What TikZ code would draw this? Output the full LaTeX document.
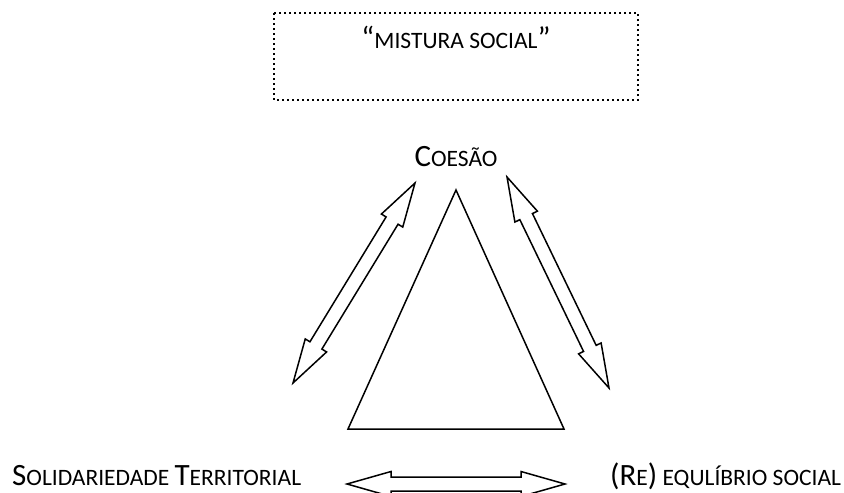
\documentclass[tikz,border=0pt]{standalone}
\usepackage{fontspec}
\setmainfont{Carlito}
\usetikzlibrary{calc}
\newcommand\BigC[1]{{\fontsize{31}{31}\selectfont #1}}
\newcommand\SmC[1]{{\fontsize{23.5}{23.5}\selectfont #1}}
\newcommand\hollowarrow[3]{%
  \coordinate (#1a) at ($(#2)!44pt!(#3)$);
  \coordinate (#1b) at ($(#3)!44pt!(#2)$);
  \draw[arrowline] (#2) -- ($(#1a)!12.5pt!90:(#3)$) -- ($(#1a)!7pt!90:(#3)$)
    -- ($(#1b)!7pt!-90:(#2)$) -- ($(#1b)!12.5pt!-90:(#2)$) -- (#3)
    -- ($(#1b)!12.5pt!90:(#2)$) -- ($(#1b)!7pt!90:(#2)$)
    -- ($(#1a)!7pt!-90:(#3)$) -- ($(#1a)!12.5pt!-90:(#3)$) -- cycle;
}
\begin{document}
\begin{tikzpicture}[x=1pt,y=-1pt,
  arrowline/.style={draw=black, line width=1.5pt, line join=miter, fill=white},
  shapeline/.style={draw=black, line width=1.5pt, line join=miter},
  dotbox/.style={draw=black, line width=2pt, dash pattern=on 2pt off 3pt},
  lbl/.style={inner sep=0pt, text=black}]
\clip (0,0) rectangle (844,493);
\fill[white] (0,0) rectangle (844,493);
% dotted frame and its label
\draw[dotbox] (274,13) rectangle (638,100);
\node[lbl, anchor=base] (mix) at (456,48) {\BigC{“}\SmC{MISTURA SOCIAL}\BigC{”}};
% top label
\node[lbl, anchor=base] (coesao) at (456,166) {\BigC{C}\SmC{OESÃO}};
% bottom labels
\node[lbl, anchor=base west] (solid) at (12,485) {\BigC{S}\SmC{OLIDARIEDADE }\BigC{T}\SmC{ERRITORIAL}};
\node[lbl, anchor=base west] (equil) at (610,485) {\BigC{(R}\SmC{E}\BigC{)}\SmC{ EQULÍBRIO SOCIAL}};
% triangle
\coordinate (apex) at (456,190);
\coordinate (bl) at (348,429);
\coordinate (br) at (564,429);
\draw[shapeline] (apex) -- (br) -- (bl) -- cycle;
% double arrows
\coordinate (la1) at (415,183);
\coordinate (la2) at (293,383);
\coordinate (ra1) at (507,177);
\coordinate (ra2) at (609,388);
\coordinate (ba1) at (347,484);
\coordinate (ba2) at (565,484);
\hollowarrow{L}{la1}{la2}
\hollowarrow{R}{ra1}{ra2}
\hollowarrow{B}{ba1}{ba2}
\end{tikzpicture}
\end{document}
